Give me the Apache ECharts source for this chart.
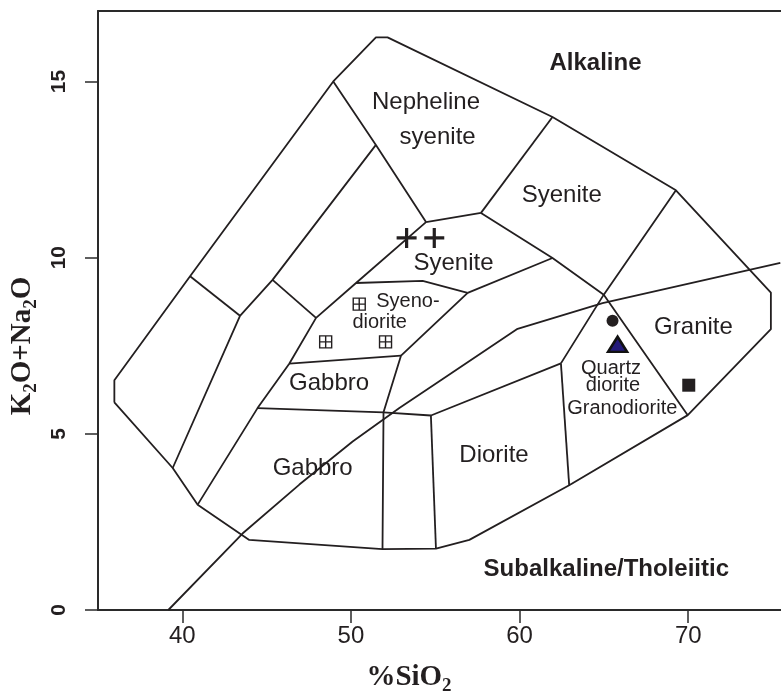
<!DOCTYPE html>
<html><head><meta charset="utf-8">
<script src="https://cdn.jsdelivr.net/npm/echarts@6/dist/echarts.min.js"></script>
<style>html,body{margin:0;padding:0;background:#fff}#c{width:781px;height:693px}</style>
</head><body><div id="c"></div>
<script>
// ---- tick labels ----
const xTicks = [40, 50, 60, 70];
const yTicks = [0, 5, 10, 15];

// ---- field boundary polylines [SiO2, K2O+Na2O] ----
const outerBoundary = [[35.97,5.89],[35.97,6.52],[40.46,9.47],[48.95,15.0],[51.48,16.25],[52.17,16.25],[61.95,13.99],[69.27,11.91],[74.90,9.01],[74.90,7.97],[69.97,5.53],[62.94,3.54],[57.02,1.99],[55.04,1.74],[51.87,1.73],[43.97,1.99],[40.91,2.99],[39.43,4.03],[35.97,5.89]];
const nephSyeniteBase = [[48.95,15.0],[51.48,13.20],[54.45,11.01]];
const innerDiagonal = [[51.48,13.20],[45.35,9.37],[43.42,8.35],[39.43,4.03]];
const crossLeft = [[40.46,9.47],[43.42,8.35]];
const crossMid = [[45.35,9.37],[47.93,8.29]];
const gabbroLeft = [[47.93,8.29],[46.34,6.99],[44.46,5.73],[40.91,2.99]];
const syeniteLowerLeft = [[47.93,8.29],[50.30,9.28],[54.45,11.01]];
const syenodioriteTop = [[50.30,9.28],[54.25,9.34],[56.92,9.00]];
const syeniteLowerTop = [[54.45,11.01],[57.71,11.27]];
const syeniteUpperLeft = [[61.95,13.99],[57.71,11.27]];
const graniteLeft = [[57.71,11.27],[61.95,9.99],[64.99,8.95],[69.97,5.53]];
const syeniteInner = [[61.95,9.99],[56.92,9.00]];
const syenodioriteRight = [[56.92,9.00],[52.97,7.22],[51.93,5.61],[51.87,1.73]];
const gabbroUpperTop = [[46.34,6.99],[52.97,7.22]];
const gabbroLowerTop = [[44.46,5.73],[51.93,5.61],[54.74,5.52]];
const dioriteLeft = [[54.74,5.52],[55.04,1.74]];
const dioriteTop = [[54.74,5.52],[62.45,7.00]];
const dioriteRight = [[62.45,7.00],[62.94,3.54]];
const syeniteGranite = [[69.27,11.91],[64.99,8.95],[62.45,7.00]];
const alkalineLine = [[39.17,0],[43.57,2.17],[46.94,3.56],[50.10,4.78],[52.87,5.73],[55.24,6.49],[59.88,7.98],[64.92,8.71],[75.46,9.85]];

// ---- samples ----
const crossPts = [[53.30,10.56],[54.94,10.56]];
const gridSquarePts = [[50.49,8.68],[48.50,7.61],[52.05,7.61]];
const circlePts = [[65.51,8.21]];
const trianglePts = [[65.81,7.54]];
const squarePts = [[70.03,6.38]];

// ---- field names ----
const boldNames = ['Alkaline', 'Subalkaline/Tholeiitic'];
const boldX = [64.50, 65.14];
const boldY = [15.50, 1.16];
const bigNames = ['Nepheline', 'syenite', 'Syenite', 'Syenite', 'Gabbro', 'Gabbro', 'Diorite', 'Granite'];
const bigX = [54.45, 55.14, 62.50, 56.08, 48.70, 47.73, 58.48, 70.31];
const bigY = [14.40, 13.40, 11.76, 9.83, 6.44, 4.03, 4.39, 8.02];
const smallNames = ['Syeno-', 'diorite', 'Quartz', 'diorite', 'Granodiorite'];
const smallX = [53.38, 51.70, 65.42, 65.53, 66.09];
const smallY = [8.75, 8.15, 6.86, 6.38, 5.71];

const INK = '#231f20';
const SANS = '"Liberation Sans", Arial, sans-serif';
const SERIF = '"Liberation Serif", "Times New Roman", serif';

const polylines = [outerBoundary, nephSyeniteBase, innerDiagonal, crossLeft, crossMid, gabbroLeft,
  syeniteLowerLeft, syenodioriteTop, syeniteLowerTop, syeniteUpperLeft, graniteLeft, syeniteInner,
  syenodioriteRight, gabbroUpperTop, gabbroLowerTop, dioriteLeft, dioriteTop, dioriteRight,
  syeniteGranite, alkalineLine];

const lineSeries = polylines.map(d => ({
  type: 'line', data: d, symbol: 'none', silent: true, z: 2,
  lineStyle: { color: INK, width: 1.8, opacity: 1 }
}));

function labelSeries(names, xs, ys, size, weight) {
  return {
    type: 'scatter', symbol: 'circle', symbolSize: 1, silent: true, z: 5,
    itemStyle: { color: 'rgba(0,0,0,0)', opacity: 1 },
    data: names.map((n, i) => ({ name: n, value: [xs[i], ys[i]] })),
    label: { show: true, position: 'inside', formatter: '{b}', color: INK, opacity: 1,
      textBorderWidth: 0,
      fontFamily: SANS, fontSize: size, fontWeight: weight, align: 'center', verticalAlign: 'middle' }
  };
}

const chart = echarts.init(document.getElementById('c'), null, { renderer: 'canvas' });
chart.setOption({
  animation: false,
  backgroundColor: '#fff',
  grid: { left: 98, right: 0, top: 11, bottom: 83, containLabel: false, outerBoundsMode: 'none' },
  xAxis: [{
    type: 'value', min: 35, max: 75.5, position: 'bottom',
    axisLine: { show: true, lineStyle: { color: '#2a2a2a', width: 2 } },
    axisTick: { show: true, length: 13, lineStyle: { color: '#2a2a2a', width: 1.5 }, customValues: xTicks },
    axisLabel: { customValues: xTicks, fontSize: 24, fontFamily: SANS, color: INK, margin: 14 },
    splitLine: { show: false },
    name: '%SiO{s|2}', nameLocation: 'middle', nameGap: 50,
    nameTextStyle: { fontFamily: SERIF, fontWeight: 'bold', fontSize: 29, color: INK, lineHeight: 36,
      padding: [0, 61, 0, 0],
      rich: { s: { fontFamily: SERIF, fontWeight: 'bold', fontSize: 19, lineHeight: 19, verticalAlign: 'bottom', color: INK } } }
  }, {
    type: 'value', min: 35, max: 75.5, position: 'top',
    axisLine: { show: true, lineStyle: { color: '#2a2a2a', width: 2 } },
    axisTick: { show: false }, axisLabel: { show: false }, splitLine: { show: false }
  }],
  yAxis: {
    type: 'value', min: 0, max: 17,
    axisLine: { show: true, lineStyle: { color: '#2a2a2a', width: 2 } },
    axisTick: { show: true, length: 13, lineStyle: { color: '#2a2a2a', width: 1.5 }, customValues: yTicks },
    axisLabel: { customValues: yTicks, rotate: 90, fontSize: 21, fontWeight: 'bold', fontFamily: SANS, color: INK, margin: 28 },
    splitLine: { show: false },
    name: 'K{s|2}O+Na{s|2}O', nameLocation: 'middle', nameRotate: 90, nameGap: 57,
    nameTextStyle: { fontFamily: SERIF, fontWeight: 'bold', fontSize: 29, color: INK, lineHeight: 36,
      padding: [0, 71, 0, 0],
      rich: { s: { fontFamily: SERIF, fontWeight: 'bold', fontSize: 19, lineHeight: 19, verticalAlign: 'bottom', color: INK } } }
  },
  series: [
    ...lineSeries,
    { type: 'scatter', data: crossPts, symbol: 'path://M10 0 V20 M0 10 H20', symbolSize: 20, z: 6,
      itemStyle: { color: 'none', borderColor: INK, borderWidth: 3.2, opacity: 1 } },
    { type: 'scatter', data: gridSquarePts, symbol: 'path://M0 0 H12 V12 H0 Z M6 0 V12 M0 6 H12', symbolSize: 12, z: 6,
      itemStyle: { color: '#fff', borderColor: INK, borderWidth: 1.4, opacity: 1 } },
    { type: 'scatter', data: circlePts, symbol: 'circle', symbolSize: 12, z: 6, itemStyle: { color: INK, opacity: 1 } },
    { type: 'scatter', data: trianglePts, symbol: 'triangle', symbolSize: [19, 15], z: 6,
      itemStyle: { color: '#231a7a', borderColor: '#111', borderWidth: 2.5, opacity: 1 } },
    { type: 'scatter', data: squarePts, symbol: 'rect', symbolSize: 13, z: 6, itemStyle: { color: INK, opacity: 1 } },
    labelSeries(boldNames, boldX, boldY, 24, 'bold'),
    labelSeries(bigNames, bigX, bigY, 24, 'normal'),
    labelSeries(smallNames, smallX, smallY, 20, 'normal')
  ]
});
</script></body></html>
